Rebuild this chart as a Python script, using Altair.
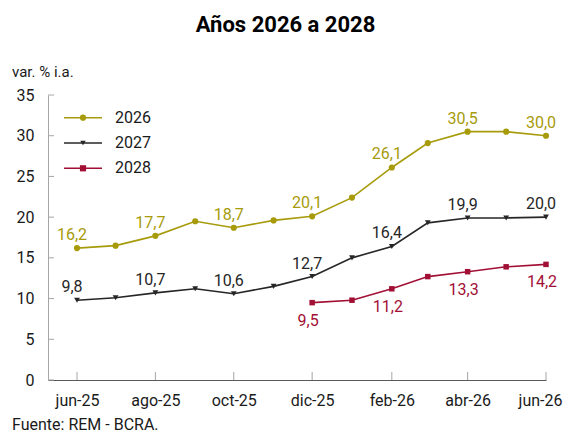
import altair as alt
import pandas as pd

# ---- data ----
months = ["2025-06-01", "2025-07-01", "2025-08-01", "2025-09-01", "2025-10-01",
          "2025-11-01", "2025-12-01", "2026-01-01", "2026-02-01", "2026-03-01",
          "2026-04-01", "2026-05-01", "2026-06-01"]
s2026 = [16.2, 16.5, 17.7, 19.5, 18.7, 19.6, 20.1, 22.4, 26.1, 29.1, 30.5, 30.5, 30.0]
s2027 = [9.8, 10.1, 10.7, 11.2, 10.6, 11.5, 12.7, 15.0, 16.4, 19.3, 19.9, 19.9, 20.0]
s2028 = [None, None, None, None, None, None, 9.5, 9.8, 11.2, 12.7, 13.3, 13.9, 14.2]
series_names = ["2026", "2027", "2028"]
label_months = ["2025-06-01", "2025-08-01", "2025-10-01", "2025-12-01",
                "2026-02-01", "2026-04-01", "2026-06-01"]
x_tick_dates = ["2025-06-01", "2025-08-01", "2025-10-01", "2025-12-01",
                "2026-02-01", "2026-04-01", "2026-06-01"]
y_ticks = [0, 5, 10, 15, 20, 25, 30, 35]
title_text = "Años 2026 a 2028"
y_title = "var. % i.a."
source_text = "Fuente: REM - BCRA."

colors = ["#A79B0B", "#262626", "#A20F35"]
shapes = ["circle", "triangle-down", "square"]
sizes = [38, 30, 38]

rows = []
for name, vals in zip(series_names, [s2026, s2027, s2028]):
    for d, v in zip(months, vals):
        if v is None:
            continue
        rows.append({"date": d, "serie": name, "v": v, "lab": d in label_months})
df = pd.DataFrame(rows)


def ms(d):
    return int(pd.Timestamp(d, tz="UTC").value // 10**6)


x_domain = [ms("2025-05-09T10:00:00"), ms("2026-06-01")]
x_values = [ms(d) for d in x_tick_dates]
last_tick = x_values[-1]

FONT = "Roboto"
W, H = 498, 285

xscale = alt.Scale(type="utc", domain=x_domain)
yscale = alt.Scale(domain=[0, 35], nice=False, zero=True)
cscale = alt.Scale(domain=series_names, range=colors)

month_expr = ("['ene','feb','mar','abr','may','jun','jul','ago','sep','oct','nov','dic']"
              "[utcmonth(datum.value)] + '-' + utcFormat(datum.value, '%y')")

base = alt.Chart(df)

lines = base.mark_line(strokeWidth=1.6).encode(
    x=alt.X("date:T", scale=xscale,
            axis=alt.Axis(values=x_values, labelExpr=month_expr, ticks=False,
                          grid=False, title=None, domainColor="#595959",
                          labelFont=FONT, labelFontSize=16, labelColor="#1a1a1a",
                          labelPadding=12, labelFlush=False, labelOverlap=False,
                          labelOffset={"condition": {"test": f"time(datum.value) >= {last_tick - 86400000}",
                                                     "value": -6},
                                       "value": 0})),
    y=alt.Y("v:Q", scale=yscale,
            axis=alt.Axis(values=y_ticks, ticks=False, grid=False, title=None,
                          domainColor="#a6a6a6", labelFont=FONT, labelFontSize=16,
                          labelColor="#1a1a1a", labelPadding=14)),
    color=alt.Color("serie:N", scale=cscale, legend=None),
    detail="serie:N",
)

points = base.mark_point(filled=True, opacity=1).encode(
    x=alt.X("date:T", scale=xscale),
    y=alt.Y("v:Q", scale=yscale),
    color=alt.Color("serie:N", scale=cscale, legend=None),
    shape=alt.Shape("serie:N", scale=alt.Scale(domain=series_names, range=shapes), legend=None),
    size=alt.Size("serie:N", scale=alt.Scale(domain=series_names, range=sizes), legend=None),
)

lab_base = base.transform_filter("datum.lab").transform_calculate(
    txt="replace(format(datum.v, '.1f'), '.', ',')"
)

labels_above = lab_base.transform_filter("datum.serie != '2028'").mark_text(
    font=FONT, fontSize=16, baseline="alphabetic", dx=-5, dy=-8
).encode(
    x=alt.X("date:T", scale=xscale), y=alt.Y("v:Q", scale=yscale),
    text="txt:N", color=alt.Color("serie:N", scale=cscale, legend=None),
)

labels_below = lab_base.transform_filter("datum.serie == '2028'").mark_text(
    font=FONT, fontSize=16, baseline="top", dx=-4, dy=10
).encode(
    x=alt.X("date:T", scale=xscale), y=alt.Y("v:Q", scale=yscale),
    text="txt:N", color=alt.Color("serie:N", scale=cscale, legend=None),
)

# inward ticks
ytick_df = pd.DataFrame({"v": y_ticks})
yticks = alt.Chart(ytick_df).mark_rule(color="#a6a6a6", strokeWidth=1).encode(
    y=alt.Y("v:Q", scale=yscale), x=alt.value(0), x2=alt.value(6)
)
xtick_df = pd.DataFrame({"date": x_tick_dates})
xticks = alt.Chart(xtick_df).mark_rule(color="#a6a6a6", strokeWidth=1).encode(
    x=alt.X("date:T", scale=xscale), y=alt.value(H), y2=alt.value(H - 8)
)

# custom legend
legend_layers = []
one = pd.DataFrame({"a": [0]})
for i, (name, col, shp, sz) in enumerate(zip(series_names, colors, shapes, sizes)):
    yy = 22.7 + i * 25.3
    legend_layers.append(alt.Chart(one).mark_rule(color=col, strokeWidth=1.6).encode(
        x=alt.value(16), x2=alt.value(54), y=alt.value(yy)))
    legend_layers.append(alt.Chart(one).mark_point(filled=True, opacity=1, color=col,
                                                   shape=shp, size=sz).encode(
        x=alt.value(35), y=alt.value(yy)))
    legend_layers.append(alt.Chart(pd.DataFrame({"t": [name]})).mark_text(
        font=FONT, fontSize=16, align="left", baseline="middle", color="#1a1a1a").encode(
        x=alt.value(67), y=alt.value(yy), text="t:N"))

title = alt.Chart(pd.DataFrame({"t": [title_text]})).mark_text(
    font=FONT, fontSize=22, fontWeight="bold", align="center", baseline="alphabetic",
    color="#000000").encode(x=alt.value(237.5), y=alt.value(-63), text="t:N")
ytitle = alt.Chart(pd.DataFrame({"t": [y_title]})).mark_text(
    font=FONT, fontSize=15, align="left", baseline="alphabetic",
    color="#1a1a1a").encode(x=alt.value(-36), y=alt.value(-18.5), text="t:N")
source = alt.Chart(pd.DataFrame({"t": [source_text]})).mark_text(
    font=FONT, fontSize=16, align="left", baseline="alphabetic",
    color="#1a1a1a").encode(x=alt.value(-36), y=alt.value(335), text="t:N")

chart = alt.layer(
    xticks, yticks, lines, points, labels_above, labels_below,
    *legend_layers, title, ytitle, source
).properties(
    width=W, height=H,
    padding={"left": 40, "top": 87, "right": 18, "bottom": 55},
    autosize=alt.AutoSizeParams(type="none"),
    background="white",
).configure_view(stroke=None)

chart.save("out.html", embed_options={"renderer": "svg", "actions": False})
